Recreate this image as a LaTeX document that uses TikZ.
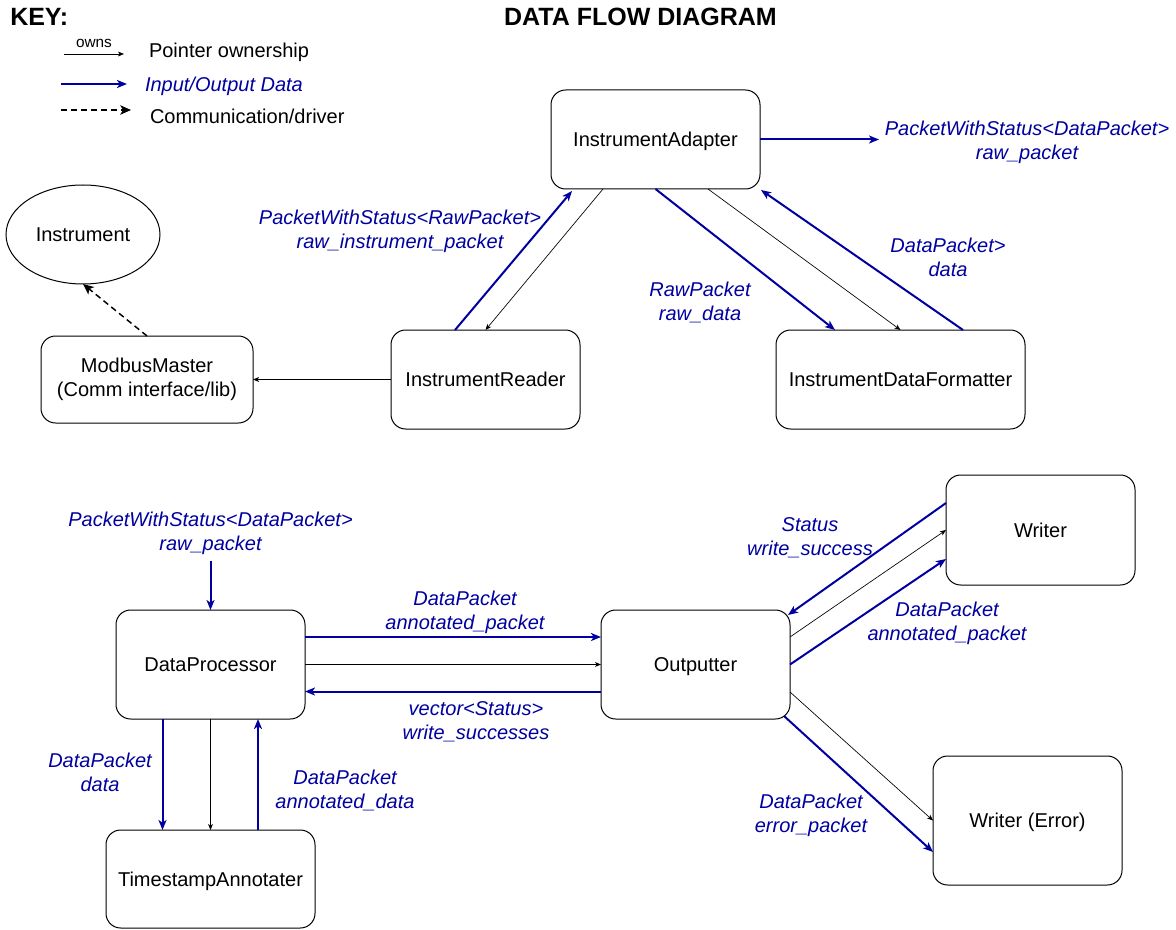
\documentclass[tikz,border=0pt]{standalone}
\usepackage{fontspec}
\setmainfont{Liberation Sans}
\usetikzlibrary{arrows.meta,calc,shapes.geometric}
\definecolor{flowblue}{RGB}{0,0,160}
\begin{document}
\begin{tikzpicture}[x=0.75pt,y=-0.75pt,
  txt/.style={font=\fontsize{15pt}{18pt}\selectfont,inner sep=0pt,outer sep=0pt},
  box/.style={txt,draw,rounded corners=11pt,line width=0.75pt,align=center},
  one/.style={text height=11.5pt,text depth=0.8pt},
  lbl/.style={txt,text=flowblue,font=\itshape\fontsize{15pt}{18pt}\selectfont,align=center},
  title/.style={inner sep=0pt,font=\bfseries\fontsize{18.75pt}{22pt}\selectfont},
  data/.style={draw=flowblue,line width=1.5pt,-{Stealth[length=7.5pt,width=6pt,inset=2pt]}},
  own/.style={draw=black,line width=0.5pt,-{Stealth[length=4.5pt,width=3.6pt,inset=1.2pt]}},
  comm/.style={draw=black,line width=1.1pt,dash pattern=on 4.5pt off 3pt,-{Stealth[length=8pt,width=7pt,inset=2pt]}}
]
\useasboundingbox (0,0) rectangle (1176,930);

% Titles
\node[title,anchor=west] (key) at (10,17) {KEY:};
\node[title] (ttl) at (640.5,17) {DATA FLOW DIAGRAM};

% Key
\coordinate (k1a) at (64,54); \coordinate (k1b) at (124,54);
\draw[own] (k1a) -- (k1b);
\node[inner sep=0pt,font=\fontsize{11.5pt}{13pt}\selectfont] (kown) at (94,43) {owns};
\node[txt,anchor=west] (kt1) at (149,52) {Pointer ownership};
\coordinate (k2a) at (61,84); \coordinate (k2b) at (127,84);
\draw[data] (k2a) -- (k2b);
\node[lbl,anchor=west] (kt2) at (145,86) {Input/Output Data};
\coordinate (k3a) at (61,110); \coordinate (k3b) at (131,110);
\draw[comm] (k3a) -- (k3b);
\node[txt,anchor=west] (kt3) at (150,116) {Communication/driver};

% Nodes
\node[box,one,minimum width=156.75pt,minimum height=74.25pt] (IA) at (655.5,139.5) {InstrumentAdapter};
\node[txt,one,draw,ellipse,line width=0.75pt,minimum width=115.5pt,minimum height=74.25pt] (INS) at (83,234.5) {Instrument};
\node[box,minimum width=159pt,minimum height=65.25pt] (MM) at (147,379.5) {ModbusMaster\\(Comm interface/lib)};
\node[box,one,minimum width=141.75pt,minimum height=74.25pt] (IR) at (485.5,379.5) {InstrumentReader};
\node[box,one,minimum width=186.75pt,minimum height=74.25pt] (IDF) at (900.5,379.5) {InstrumentDataFormatter};
\node[box,one,minimum width=141.75pt,minimum height=81.75pt] (DP) at (210.5,664.5) {DataProcessor};
\node[box,one,minimum width=141.75pt,minimum height=81.75pt] (OUT) at (695.5,664.5) {Outputter};
\node[box,one,minimum width=141.75pt,minimum height=82.5pt] (WR) at (1040.5,530) {Writer};
\node[box,one,minimum width=141.75pt,minimum height=96.75pt] (WE) at (1027.5,820.5) {Writer (Error)};
\node[box,one,minimum width=156.75pt,minimum height=73.5pt] (TA) at (210.5,879) {TimestampAnnotater};

\coordinate (iaout) at (879,139.5);
\coordinate (dpin) at (210.5,561);

% Top connectors
\draw[data] (IA.east) -- (iaout);
\draw[data] ($(IR.north)+(-30.5,0)$) -- ($(IA.south)+(-83.5,2)$);
\draw[own] ($(IA.south)+(-52.5,0)$) -- (IR.north);
\draw[data] (IA.south) -- ($(IDF.north)+(-65.5,0)$);
\draw[own] ($(IA.south)+(52.5,0)$) -- (IDF.north);
\draw[data] ($(IDF.north)+(62.5,0)$) -- ($(IA.south east)+(1,1)$);
\draw[comm] (MM.north) -- (INS.south);
\draw[own] (IR.west) -- (MM.east);

% Bottom connectors
\draw[data] (dpin) -- (DP.north);
\draw[data] ($(DP.east)+(0,-27.5)$) -- ($(OUT.west)+(0,-27.5)$);
\draw[own] (DP.east) -- (OUT.west);
\draw[data] ($(OUT.west)+(0,27)$) -- ($(DP.east)+(0,27)$);
\draw[data] ($(DP.south)+(-48,0)$) -- ($(TA.north)+(-48,0)$);
\draw[own] (DP.south) -- (TA.north);
\draw[data] ($(TA.north)+(47.5,0)$) -- ($(DP.south)+(47.5,0)$);
\draw[data] ($(WR.west)+(0,-27)$) -- ($(OUT.north east)+(-2,5)$);
\draw[own] ($(OUT.east)+(0,-27.5)$) -- (WR.west);
\draw[data] (OUT.east) -- ($(WR.west)+(0,29)$);
\draw[own] ($(OUT.east)+(0,27.5)$) -- (WE.west);
\draw[data] ($(OUT.south east)+(-6,-3)$) -- ($(WE.west)+(0,31.5)$);

% Labels
\node[lbl] (l1) at (1027,142) {PacketWithStatus<DataPacket>\\raw\_packet};
\node[lbl] (l2) at (400,231) {PacketWithStatus<RawPacket>\\raw\_instrument\_packet};
\node[lbl] (l3) at (700,302) {RawPacket\\raw\_data};
\node[lbl] (l4) at (948,257) {DataPacket>\\data};
\node[lbl] (l5) at (210.5,533) {PacketWithStatus<DataPacket>\\raw\_packet};
\node[lbl] (l6) at (465,612) {DataPacket\\annotated\_packet};
\node[lbl] (l7) at (476,722) {vector<Status>\\write\_successes};
\node[lbl] (l8) at (100,772) {DataPacket\\data};
\node[lbl] (l9) at (345,790) {DataPacket\\annotated\_data};
\node[lbl] (l10) at (810,538) {Status\\write\_success};
\node[lbl] (l11) at (947,623) {DataPacket\\annotated\_packet};
\node[lbl] (l12) at (811,815) {DataPacket\\error\_packet};
\end{tikzpicture}
\end{document}
